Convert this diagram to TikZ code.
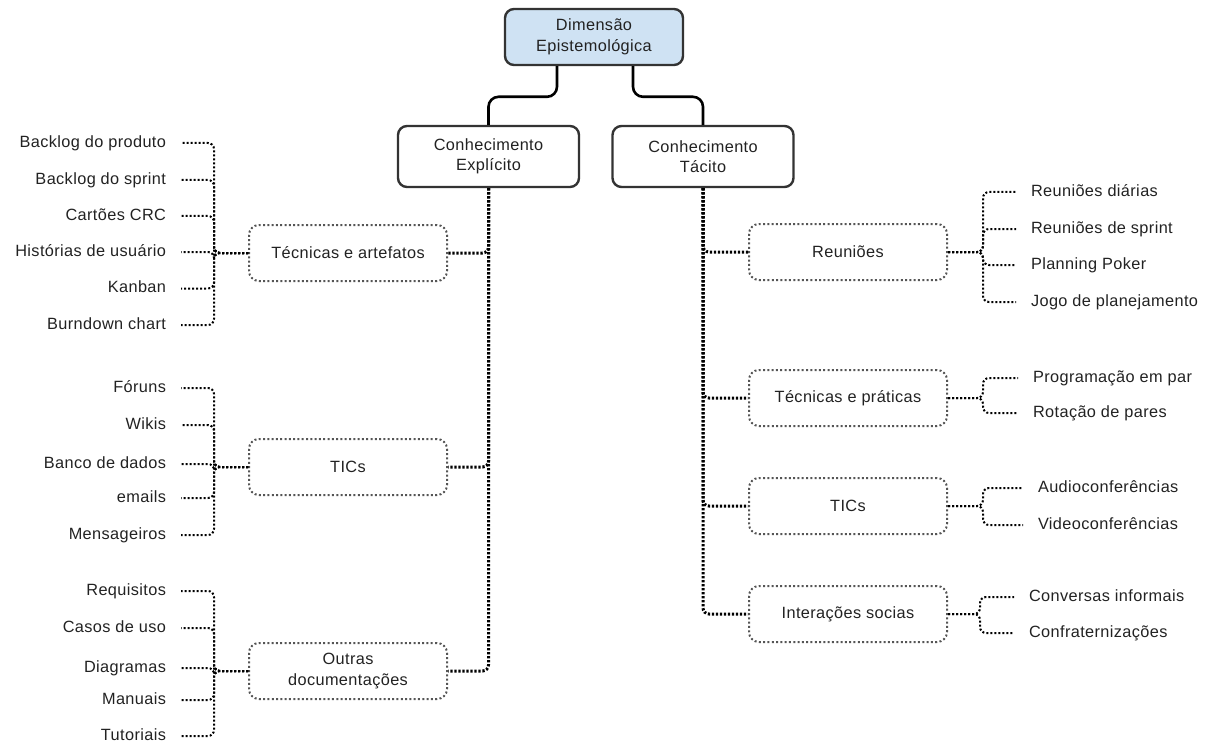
\documentclass[tikz,border=0pt]{standalone}
\usepackage{fontspec}
\setmainfont{Liberation Sans}[LetterSpace=2.4]
\usetikzlibrary{calc}

\definecolor{ink}{HTML}{222222}
\definecolor{edge}{HTML}{333333}
\definecolor{topfill}{HTML}{CFE2F3}
\definecolor{dotgray}{HTML}{555555}

\begin{document}
\begin{tikzpicture}[x=1pt, y=-1pt,
  font=\fontsize{16.3}{20.5}\selectfont, text=ink,
  rootbox/.style={draw=edge, line width=2.4pt, rounded corners=9pt, fill=topfill,
    minimum width=178pt, minimum height=56pt, align=center},
  mainbox/.style={draw=edge, line width=2.4pt, rounded corners=9pt, fill=white,
    minimum width=181pt, minimum height=61pt, align=center},
  groupbox/.style={draw=dotgray, line width=2pt, dash pattern=on 2pt off 2.3pt,
    rounded corners=10pt, minimum width=198pt, minimum height=56pt, align=center},
  leafL/.style={anchor=east, inner xsep=0pt, outer xsep=15pt, text height=11.5pt, text depth=3pt},
  leafR/.style={anchor=west, inner xsep=0pt, outer xsep=15pt, text height=11.5pt, text depth=3pt},
  solidlink/.style={draw=black, line width=2.6pt, rounded corners=10pt},
  trunk/.style={draw=black, line width=3pt, dash pattern=on 2.2pt off 1.8pt, rounded corners=6pt},
  twig/.style={draw=black, line width=2pt, dash pattern=on 2pt off 2pt, rounded corners=6pt},
]
\useasboundingbox (0,0) rectangle (1215,746);

% main hierarchy
\node[rootbox] (root) at (594,37) {Dimensão\\Epistemológica};
\node[mainbox] (exp) at (488.5,156.5) {Conhecimento\\Explícito};
\node[mainbox] (tac) at (703,156.5) {Conhecimento\\Tácito};

\draw[solidlink] ([xshift=-37pt]root.south) |- ($(exp.north)+(0,-28)$) -- (exp.north);
\draw[solidlink] ([xshift=39pt]root.south) |- ($(tac.north)+(0,-28)$) -- (tac.north);

% explicit knowledge groups
\node[groupbox] (tea) at (348,253) {Técnicas e artefatos};
\node[groupbox] (ticL) at (348,467) {TICs};
\node[groupbox] (outr) at (348,671) {Outras\\documentações};

\draw[trunk] (exp.south) |- (tea.east);
\draw[trunk] (exp.south) |- (ticL.east);
\draw[trunk] (exp.south) |- (outr.east);

% tacit knowledge groups
\node[groupbox] (reu) at (848,252) {Reuniões};
\node[groupbox] (tep) at (848,398) {Técnicas e práticas};
\node[groupbox] (ticR) at (848,506) {TICs};
\node[groupbox] (inte) at (848,614) {Interações socias};

\draw[trunk] (tac.south) |- (reu.west);
\draw[trunk] (tac.south) |- (tep.west);
\draw[trunk] (tac.south) |- (ticR.west);
\draw[trunk] (tac.south) |- (inte.west);

% leaves: Técnicas e artefatos
\node[leafL] (a1) at (181,143) {Backlog do produto};
\node[leafL] (a2) at (181,180) {Backlog do sprint};
\node[leafL] (a3) at (181,216) {Cartões CRC};
\node[leafL] (a4) at (181,252) {Histórias de usuário};
\node[leafL] (a5) at (181,288.5) {Kanban};
\node[leafL] (a6) at (181,325) {Burndown chart};
\foreach \n in {a1,a2,a3,a4,a5,a6}
  \draw[twig] (tea.west) -- ++(-34,0) |- (\n.east);

% leaves: TICs (explicit)
\node[leafL] (b1) at (181,388) {Fóruns};
\node[leafL] (b2) at (181,425) {Wikis};
\node[leafL] (b3) at (181,464) {Banco de dados};
\node[leafL] (b4) at (181,498) {emails};
\node[leafL] (b5) at (181,535) {Mensageiros};
\foreach \n in {b1,b2,b3,b4,b5}
  \draw[twig] (ticL.west) -- ++(-34,0) |- (\n.east);

% leaves: Outras documentações
\node[leafL] (c1) at (181,591) {Requisitos};
\node[leafL] (c2) at (181,628) {Casos de uso};
\node[leafL] (c3) at (181,668) {Diagramas};
\node[leafL] (c4) at (181,700) {Manuais};
\node[leafL] (c5) at (181,736) {Tutoriais};
\foreach \n in {c1,c2,c3,c4,c5}
  \draw[twig] (outr.west) -- ++(-34,0) |- (\n.east);

% leaves: Reuniões
\node[leafR] (d1) at (1016,192) {Reuniões diárias};
\node[leafR] (d2) at (1016,229) {Reuniões de sprint};
\node[leafR] (d3) at (1016,265) {Planning Poker};
\node[leafR] (d4) at (1016,302) {Jogo de planejamento};
\foreach \n in {d1,d2,d3,d4}
  \draw[twig] (reu.east) -- ++(35,0) |- (\n.west);

% leaves: Técnicas e práticas
\node[leafR] (e1) at (1018,378) {Programação em par};
\node[leafR] (e2) at (1018,413) {Rotação de pares};
\foreach \n in {e1,e2}
  \draw[twig] (tep.east) -- ++(35,0) |- (\n.west);

% leaves: TICs (tacit)
\node[leafR] (f1) at (1023,488) {Audioconferências};
\node[leafR] (f2) at (1023,525) {Videoconferências};
\foreach \n in {f1,f2}
  \draw[twig] (ticR.east) -- ++(35,0) |- (\n.west);

% leaves: Interações socias
\node[leafR] (g1) at (1014,597) {Conversas informais};
\node[leafR] (g2) at (1014,633) {Confraternizações};
\foreach \n in {g1,g2}
  \draw[twig] (inte.east) -- ++(32,0) |- (\n.west);

\end{tikzpicture}
\end{document}
